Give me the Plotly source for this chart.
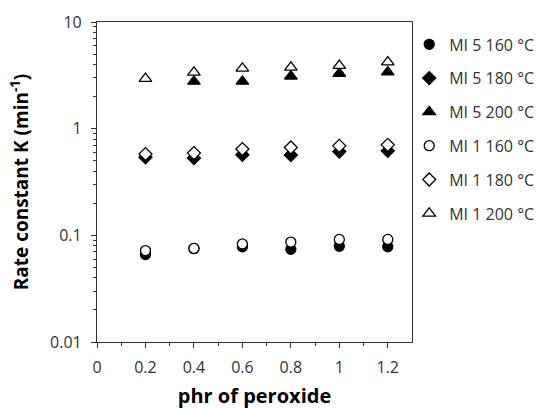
import plotly.graph_objects as go

# phr of peroxide
phr = [0.2, 0.4, 0.6, 0.8, 1.0, 1.2]

# Rate constant K (min^-1)
mi5_160 = [0.066, 0.075, 0.078, 0.074, 0.079, 0.078]
mi5_180 = [0.54, 0.53, 0.57, 0.565, 0.61, 0.62]
mi5_200 = [None, 2.77, 2.77, 3.1, 3.29, 3.39]
mi1_160 = [0.072, 0.0755, 0.083, 0.0865, 0.0915, 0.0915]
mi1_180 = [0.578, 0.59, 0.644, 0.667, 0.69, 0.705]
mi1_200 = [2.95, 3.37, 3.67, 3.75, 3.9, 4.2]

series = [
    ("MI 5 160 °C", mi5_160, "circle", "black"),
    ("MI 5 180 °C", mi5_180, "diamond", "black"),
    ("MI 5 200 °C", mi5_200, "triangle-up", "black"),
    ("MI 1 160 °C", mi1_160, "circle", "white"),
    ("MI 1 180 °C", mi1_180, "diamond", "white"),
    ("MI 1 200 °C", mi1_200, "triangle-up", "white"),
]
sizes = {"circle": 10, "diamond": 10, "triangle-up": 11}

x_ticks = [0, 0.2, 0.4, 0.6, 0.8, 1.0, 1.2]
x_ticktext = ["0", "0.2", "0.4", "0.6", "0.8", "1", "1.2"]
x_minor = [0.1, 0.3, 0.5, 0.7, 0.9, 1.1]
y_ticks = [0.01, 0.1, 1, 10]
y_ticktext = ["0.01", "0.1", "1", "10"]
y_minor = [m * 10 ** e for e in (-2, -1, 0) for m in range(2, 10)]

fig = go.Figure()
for i, (name, vals, sym, fill) in enumerate(series):
    fig.add_trace(go.Scatter(
        x=phr, y=vals, mode="markers", name=name, legendgroup=f"g{i}",
        marker=dict(symbol=sym, size=sizes[sym], color=fill,
                    line=dict(color="black", width=1.3)),
    ))

axis_color = "#333333"
tick_font = dict(family="Open Sans", size=16, color="#333333")

fig.update_layout(
    width=542, height=409,
    margin=dict(l=97, r=130, t=22, b=67, autoexpand=False),
    paper_bgcolor="white", plot_bgcolor="white",
    font=dict(family="Open Sans", color="#333333"),
    legend=dict(
        xref="container", yref="container",
        x=0.755, xanchor="left", y=0.933, yanchor="top",
        font=dict(family="Open Sans", size=16, color="#333333"),
        tracegroupgap=10, itemwidth=30, bgcolor="rgba(0,0,0,0)",
    ),
    xaxis=dict(
        range=[0, 1.3], tickvals=x_ticks, ticktext=x_ticktext,
        ticks="outside", ticklen=5, tickwidth=1.2, tickcolor=axis_color,
        minor=dict(tickvals=x_minor, ticks="outside",
                   ticklen=3, tickwidth=1, tickcolor=axis_color),
        showline=True, linecolor=axis_color, linewidth=1.2, mirror=True,
        showgrid=False, zeroline=False, tickfont=tick_font,
        ticklabelstandoff=6,
        title=dict(text="<b>phr of peroxide</b>",
                   font=dict(family="Open Sans", size=20, color="black"),
                   standoff=13),
    ),
    yaxis=dict(
        type="log", range=[-2, 1], tickvals=y_ticks, ticktext=y_ticktext,
        ticks="outside", ticklen=5, tickwidth=1.2, tickcolor=axis_color,
        minor=dict(tickvals=y_minor, ticks="outside", ticklen=3,
                   tickwidth=1, tickcolor=axis_color),
        showline=True, linecolor=axis_color, linewidth=1.2, mirror=True,
        showgrid=False, zeroline=False, tickfont=tick_font,
        ticklabelstandoff=6,
        title=dict(text="<b>Rate constant K (min<sup>-1</sup>)</b>",
                   font=dict(family="Open Sans", size=19, color="black"),
                   standoff=16),
    ),
    # companion axes carrying the inward half of the major ticks
    xaxis2=dict(
        overlaying="x", anchor="y", side="bottom", range=[0, 1.3],
        tickvals=x_ticks, ticks="inside", ticklen=6, tickwidth=1.2,
        tickcolor=axis_color, showticklabels=False, showgrid=False,
        zeroline=False, showline=False,
    ),
    yaxis2=dict(
        overlaying="y", anchor="x", side="left", type="log", range=[-2, 1],
        tickvals=y_ticks, ticks="inside", ticklen=7, tickwidth=1.2,
        tickcolor=axis_color, showticklabels=False, showgrid=False,
        zeroline=False, showline=False,
    ),
)

fig.write_html("out.html")
